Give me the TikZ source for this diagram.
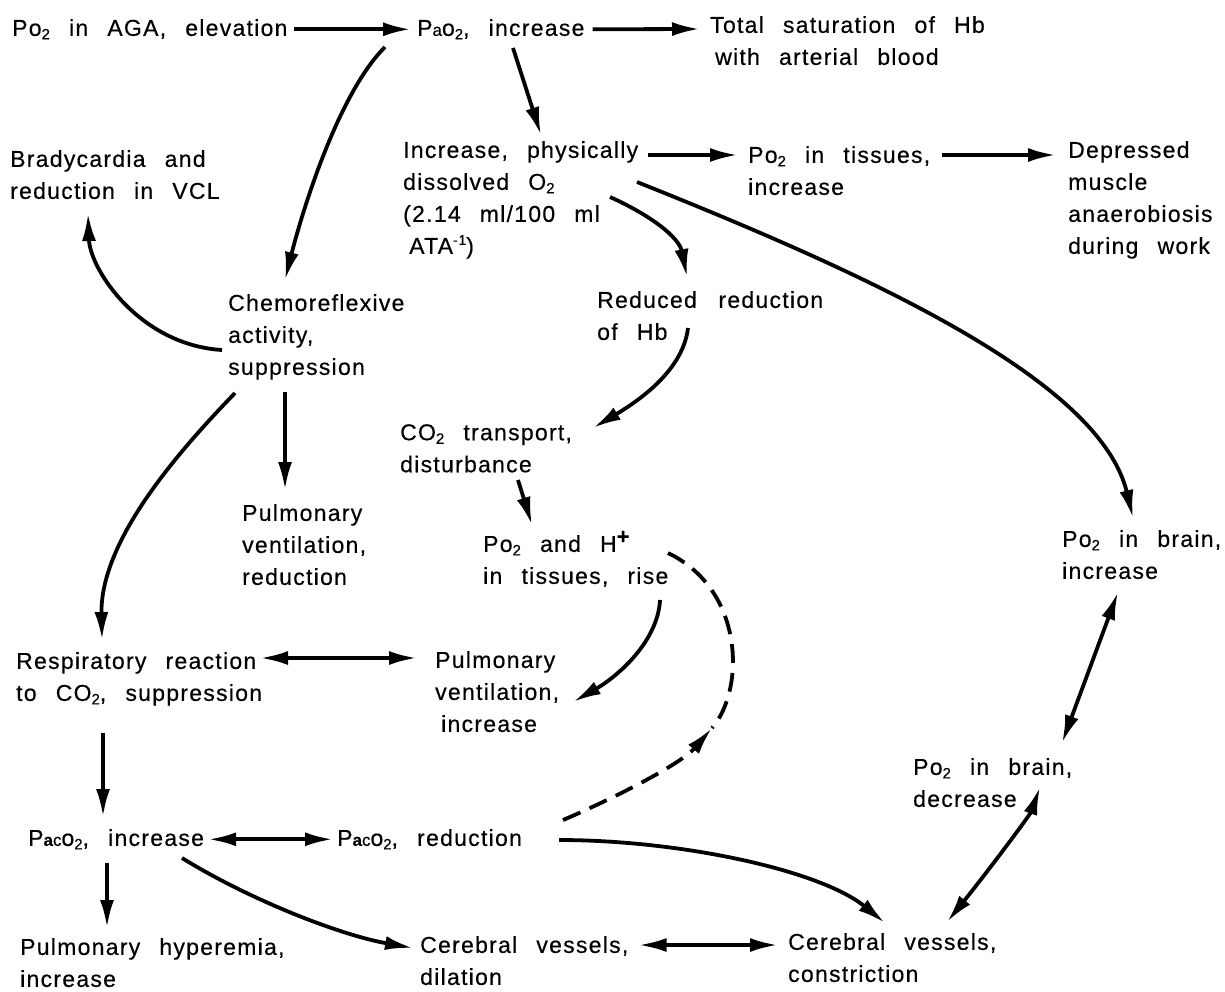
\documentclass[tikz,border=0pt]{standalone}
\usepackage{fontspec}
\setmainfont{Liberation Sans}[WordSpace=2.5,LetterSpace=5.5,FakeBold=0.4]
\usetikzlibrary{arrows.meta}
\newcommand\subx[1]{\raisebox{-3.5pt}{\fontsize{15}{15}\selectfont #1}}
\newcommand\supx[1]{\smash{\raisebox{9pt}{\fontsize{14}{14}\selectfont #1}}}
\newcommand\smf[1]{{\fontsize{17}{17}\selectfont #1}}
\begin{document}
\begin{tikzpicture}[x=1pt,y=-1pt,
  lbl/.style={anchor=north west,inner sep=0pt,align=left,font=\fontsize{23}{32}\selectfont,execute at begin node=\rule{0pt}{16.5pt}},
  arr/.style={line width=3.8pt,-{Latex[length=28pt,width=14pt]}},
  darr/.style={line width=3.8pt,{Latex[length=28pt,width=14pt]}-{Latex[length=28pt,width=14pt]}},
  dsh/.style={dash pattern=on 19pt off 10pt}]
\fill[white] (0,0) rectangle (1225,991);
\useasboundingbox (0,0) rectangle (1225,991);

\node[lbl] (n1) at (12,19) {Po\subx{2} in AGA, elevation};
\node[lbl] (n2) at (417,19) {P\smf{a}o\subx{2}, increase};
\node[lbl] (n3) at (710,16) {Total saturation of Hb\\\hspace*{5pt}with arterial blood};
\node[lbl] (n4) at (10,150) {Bradycardia and\\reduction in VCL};
\node[lbl] (n5) at (403,141) {Increase, physically\\dissolved O\subx{2}\\(2.14 ml/100 ml\\\hspace*{6pt}ATA\supx{-1})};
\node[lbl] (n6) at (748,146) {Po\subx{2} in tissues,\\increase};
\node[lbl] (n7) at (1068,141) {Depressed\\muscle\\anaerobiosis\\during work};
\node[lbl] (n8) at (228,294) {Chemoreflexive\\activity,\\suppression};
\node[lbl] (n9) at (597,291) {\makebox[226pt][s]{Reduced reduction}\\of Hb};
\node[lbl] (n10) at (400,424) {CO\subx{2} transport,\\disturbance};
\node[lbl] (n11) at (242,504) {Pulmonary\\ventilation,\\reduction};
\node[lbl] (n12) at (483,535) {Po\subx{2} and H\smash{\raisebox{8pt}{\fontsize{22}{22}\selectfont\bfseries +}}\\in tissues, rise};
\node[lbl] (n13) at (1062,530) {Po\subx{2} in brain,\\increase};
\node[lbl] (n14) at (16,652) {Respiratory reaction\\to CO\subx{2}, suppression};
\node[lbl] (n15) at (435,651) {Pulmonary\\ventilation,\\\hspace*{6pt}increase};
\node[lbl] (n16) at (913,758) {Po\subx{2} in brain,\\decrease};
\node[lbl] (n17) at (28,829) {P\smf{\bfseries a}\smf{c}o\subx{2}, increase};
\node[lbl] (n18) at (337,829) {P\smf{\bfseries a}\smf{c}o\subx{2}, reduction};
\node[lbl] (n19) at (20,938) {Pulmonary hyperemia,\\increase};
\node[lbl] (n20) at (420,936) {Cerebral vessels,\\dilation};
\node[lbl] (n21) at (788,933) {Cerebral vessels,\\constriction};

\draw[arr] ([xshift=6]n1.east) -- ([xshift=-6]n2.west);
\draw[arr] ([xshift=8]n2.east) -- ([shift={(-10,13)}]n3.north west);
\draw[arr] ([shift={(-32,28)}]n2.north west) .. controls (336,96) and (300,220) .. ([shift={(57,-14)}]n8.north west);
\draw[arr] ([shift={(96,29)}]n2.north west) -- ([shift={(138,-6)}]n5.north west);
\draw[arr] ([shift={(10,14)}]n5.north east) -- ([shift={(-10,9)}]n6.north west);
\draw[arr] ([shift={(12,9)}]n6.north east) -- ([shift={(-12,14)}]n7.north west);
\draw[arr] ([shift={(207,56)}]n5.north west) .. controls (650,215) and (679,237) .. ([shift={(90,-14)}]n9.north west);
\draw[arr] ([shift={(234,41)}]n5.north west) .. controls (870,275) and (1100,380) .. ([shift={(71,-12)}]n13.north west);
\draw[arr] ([shift={(-6,56)}]n8.north west) .. controls (140,345) and (90,270) .. ([shift={(78,63)}]n4.north west);
\draw[arr] ([shift={(57,98)}]n8.north west) -- ([shift={(43,-14)}]n11.north west);
\draw[arr] ([shift={(7,99)}]n8.north west) .. controls (180,450) and (100,540) .. ([shift={(86,-12)}]n14.north west);
\draw[arr] ([shift={(91,37)}]n9.north west) .. controls (683,370) and (640,400) .. ([shift={(193,4)}]n10.north west);
\draw[arr] ([shift={(118,56)}]n10.north west) -- ([shift={(49,-10)}]n12.north west);
\draw[arr] ([shift={(177,65)}]n12.north west) .. controls (658,640) and (620,675) .. ([shift={(138,51)}]n15.north west);

\coordinate (dm) at (712,728);
\draw[dsh,arr] ([shift={(226,-9)}]n18.north west) .. controls (610,800) and (680,765) .. (dm);
\draw[dsh,line width=3.8pt] ([shift={(185,18)}]n12.north west) .. controls (745,590) and (745,690) .. (dm);

\draw[darr] ([shift={(244,6)}]n14.north west) -- ([shift={(-18,7)}]n15.north west);
\draw[arr] ([shift={(87,81)}]n14.north west) -- ([shift={(75,-12)}]n17.north west);
\draw[darr] ([xshift=4]n17.east) -- ([xshift=-4]n18.west);
\draw[arr] ([shift={(79,34)}]n17.north west) -- ([shift={(87,-10)}]n19.north west);
\draw[arr] ([shift={(154,29)}]n17.north west) .. controls (250,900) and (340,935) .. ([shift={(-7,12)}]n20.north west);
\draw[arr] ([shift={(222,11)}]n18.north west) .. controls (680,840) and (820,870) .. ([shift={(97,-10)}]n21.north west);
\draw[darr] ([shift={(10,9)}]n20.north east) -- ([shift={(-10,12)}]n21.north west);
\draw[darr] ([shift={(56,62)}]n13.north west) -- ([shift={(149,-15)}]n16.north west);
\draw[darr] ([shift={(127,29)}]n16.north west) .. controls (1030,815) and (985,875) .. ([shift={(159,-11)}]n21.north west);
\end{tikzpicture}
\end{document}
